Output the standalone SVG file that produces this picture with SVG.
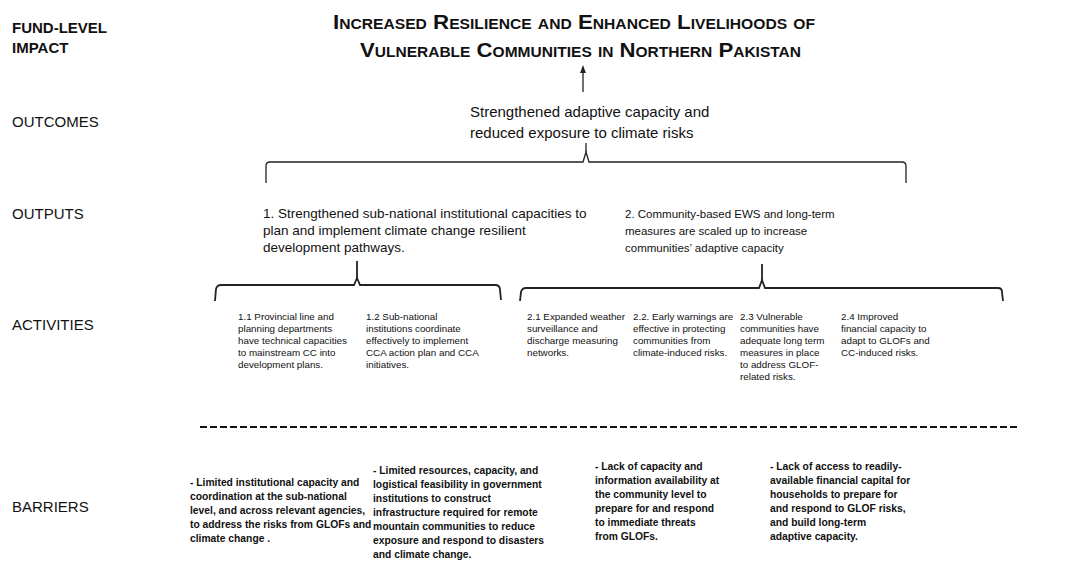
<svg xmlns="http://www.w3.org/2000/svg" width="1069" height="586" viewBox="0 0 1069 586">
<defs>
<style>
text{font-family:"Liberation Sans",Arial,sans-serif;fill:#111}
.lbl{font-size:15px}
.b{font-weight:bold}
.title{font-size:20px;font-weight:bold;font-variant:small-caps}
.oc{font-size:15px}
.op1{font-size:13.5px}
.op2{font-size:11.5px}
.act{font-size:9.8px}
.bar{font-size:10.3px;font-weight:bold}
.ln{fill:none;stroke:#222;stroke-width:1.3}
.dash{fill:none;stroke:#111;stroke-width:2;stroke-dasharray:7 3}
</style>
<marker id="ah" viewBox="0 0 8 8" refX="4" refY="4" markerWidth="6" markerHeight="6" orient="auto"><path d="M0,1 L8,4 L0,7 Z" fill="#222"/></marker>
</defs>
<rect width="1069" height="586" fill="#fff"/>

<g id="row-labels">
<text class="lbl b" x="12" y="33">FUND-LEVEL</text>
<text class="lbl b" x="12" y="53">IMPACT</text>
<text class="lbl" x="12" y="127">OUTCOMES</text>
<text class="lbl" x="12" y="219">OUTPUTS</text>
<text class="lbl" x="12" y="330">ACTIVITIES</text>
<text class="lbl" x="12" y="512">BARRIERS</text>
</g>

<g id="impact">
<text class="title" x="333" y="29" textLength="482" lengthAdjust="spacingAndGlyphs">Increased Resilience and Enhanced Livelihoods of</text>
<text class="title" x="360" y="57" textLength="441" lengthAdjust="spacingAndGlyphs">Vulnerable Communities in Northern Pakistan</text>
</g>

<g id="outcome">
<text class="oc" x="470" y="117">Strengthened adaptive capacity and</text>
<text class="oc" x="470" y="138">reduced exposure to climate risks</text>
</g>

<g id="output-1">
<text class="op1" x="263" y="218">1.  Strengthened sub-national institutional capacities to</text>
<text class="op1" x="263" y="235">plan and implement climate change resilient</text>
<text class="op1" x="263" y="252">development pathways.</text>
</g>

<g id="output-2">
<text class="op2" x="625" y="218">2.  Community-based EWS and long-term</text>
<text class="op2" x="625" y="235">measures are scaled up to increase</text>
<text class="op2" x="625" y="252">communities’ adaptive capacity</text>
</g>

<g id="activity-1-1">
<text class="act" x="238" y="320">1.1  Provincial line and</text>
<text class="act" x="238" y="332">planning departments</text>
<text class="act" x="238" y="344">have technical capacities</text>
<text class="act" x="238" y="356">to mainstream CC into</text>
<text class="act" x="238" y="368">development plans.</text>
</g>
<g id="activity-1-2">
<text class="act" x="366" y="320">1.2  Sub-national</text>
<text class="act" x="366" y="332">institutions coordinate</text>
<text class="act" x="366" y="344">effectively to implement</text>
<text class="act" x="366" y="356">CCA action plan and CCA</text>
<text class="act" x="366" y="368">initiatives.</text>
</g>
<g id="activity-2-1">
<text class="act" x="527" y="320">2.1  Expanded weather</text>
<text class="act" x="527" y="332">surveillance and</text>
<text class="act" x="527" y="344">discharge measuring</text>
<text class="act" x="527" y="356">networks.</text>
</g>
<g id="activity-2-2">
<text class="act" x="633" y="320">2.2.  Early warnings are</text>
<text class="act" x="633" y="332">effective in protecting</text>
<text class="act" x="633" y="344">communities from</text>
<text class="act" x="633" y="356">climate-induced risks.</text>
</g>
<g id="activity-2-3">
<text class="act" x="740" y="320">2.3  Vulnerable</text>
<text class="act" x="740" y="332">communities have</text>
<text class="act" x="740" y="344">adequate long term</text>
<text class="act" x="740" y="356">measures in place</text>
<text class="act" x="740" y="368">to address GLOF-</text>
<text class="act" x="740" y="380">related risks.</text>
</g>
<g id="activity-2-4">
<text class="act" x="841" y="320">2.4  Improved</text>
<text class="act" x="841" y="332">financial capacity to</text>
<text class="act" x="841" y="344">adapt to GLOFs and</text>
<text class="act" x="841" y="356">CC-induced risks.</text>
</g>

<g id="barrier-1">
<text class="bar" x="190" y="486">- Limited institutional capacity and</text>
<text class="bar" x="190" y="500">coordination at the sub-national</text>
<text class="bar" x="190" y="514">level, and across relevant agencies,</text>
<text class="bar" x="190" y="528">to address the risks from GLOFs and</text>
<text class="bar" x="190" y="542">climate change .</text>
</g>
<g id="barrier-2">
<text class="bar" x="373" y="474">- Limited resources, capacity, and</text>
<text class="bar" x="373" y="488">logistical feasibility in government</text>
<text class="bar" x="373" y="502">institutions to construct</text>
<text class="bar" x="373" y="516">infrastructure required for remote</text>
<text class="bar" x="373" y="530">mountain communities to reduce</text>
<text class="bar" x="373" y="544">exposure and respond to disasters</text>
<text class="bar" x="373" y="558">and climate change.</text>
</g>
<g id="barrier-3">
<text class="bar" x="595" y="470">- Lack of capacity and</text>
<text class="bar" x="595" y="484">information availability at</text>
<text class="bar" x="595" y="498">the community level to</text>
<text class="bar" x="595" y="512">prepare for and respond</text>
<text class="bar" x="595" y="526">to immediate threats</text>
<text class="bar" x="595" y="540">from GLOFs.</text>
</g>
<g id="barrier-4">
<text class="bar" x="770" y="470">- Lack of access to readily-</text>
<text class="bar" x="770" y="484">available financial capital for</text>
<text class="bar" x="770" y="498">households to prepare for</text>
<text class="bar" x="770" y="512">and respond to GLOF risks,</text>
<text class="bar" x="770" y="526">and build long-term</text>
<text class="bar" x="770" y="540">adaptive capacity.</text>
</g>

<g id="connectors">
<line class="ln" x1="583" y1="92" x2="583" y2="69" marker-end="url(#ah)"/>
<path class="ln" d="M266,183 L266,166 Q266,162 270,162 L583,162 L586,152 L589,162 L902,162 Q906,162 906,166 L906,183"/>
<line class="ln" x1="586" y1="152" x2="586" y2="143"/>
<path class="ln" style="stroke-width:1.8" d="M215,301 L216,289 Q217,285 221,285 L354,285 L357,278 L360,285 L495,285 Q500,285 500,290 L501,300"/>
<line class="ln" style="stroke-width:1.8" x1="357" y1="278" x2="357" y2="261"/>
<path class="ln" style="stroke-width:1.8" d="M520,301 L521,292 Q522,288 526,288 L759,288 L762,280 L765,288 L998,288 Q1002,288 1002,292 L1003,301"/>
<line class="ln" style="stroke-width:1.8" x1="762" y1="280" x2="762" y2="264"/>
<line class="dash" x1="200" y1="427" x2="1020" y2="427"/>
</g>
</svg>
